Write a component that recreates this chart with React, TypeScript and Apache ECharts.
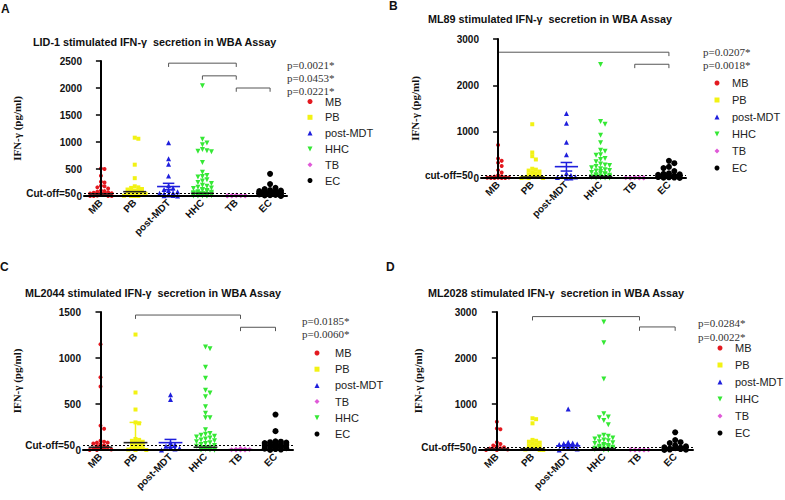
import React, { useEffect, useRef } from "react";
import * as echarts from "echarts";

// ---------- categories & labels ----------
const CATEGORIES = ["MB", "PB", "post-MDT", "HHC", "TB", "EC"];
const LEGEND_ORDER_ABD = ["MB", "PB", "post-MDT", "HHC", "TB", "EC"];
const LEGEND_ORDER_C = ["MB", "PB", "post-MDT", "TB", "HHC", "EC"];
const TITLES = [
  "LID-1 stimulated IFN-γ  secretion in WBA Assay",
  "ML89 stimulated IFN-γ  secretion in WBA Assay",
  "ML2044 stimulated IFN-γ  secretion in WBA Assay",
  "ML2028 stimulated IFN-γ  secretion in WBA Assay",
];
const PANEL_LETTERS = ["A", "B", "C", "D"];
const CUTOFF_LABELS = ["Cut-off=50", "cut-off=50", "Cut-off=50", "Cut-off=50"];
const CUTOFF_VALUE = 50;
const Y_MAX = [2500, 3000, 1500, 3000];
const Y_INTERVAL = [500, 1000, 500, 1000];
const P_VALUES = [
  ["p=0.0021*", "p=0.0453*", "p=0.0221*"],
  ["p=0.0207*", "p=0.0018*"],
  ["p=0.0185*", "p=0.0060*"],
  ["p=0.0284*", "p=0.0022*"],
];

// ---------- Panel A: LID-1 ----------
const A_MB = [510, 500, 375, 265, 250, 190, 180, 160, 140, 100, 90, 80, 70, 60, 50, 45, 40, 30, 25, 20, 15, 10, 5, 5, 0, 0, 0];
const A_PB = [1080, 1060, 580, 330, 180, 160, 150, 130, 120, 100, 90, 80, 60, 50, 40, 30, 20, 10, 5, 0, 0, 0];
const A_PM = [985, 690, 590, 370, 190, 150, 120, 100, 80, 60, 50, 40, 30, 20, 10, 5, 0];
const A_HHC = [2040, 1050, 980, 950, 860, 840, 830, 820, 620, 440, 380, 360, 350, 300, 280, 250, 230, 200, 180, 160, 150, 140, 120, 110, 100, 90, 80, 70, 60, 55, 50, 45, 40, 35, 30, 25, 20, 15, 10, 5, 0, 0, 0, 0];
const A_TB = [20, 15, 10, 10, 5, 5, 3, 0, 0, 0];
const A_EC = [410, 220, 150, 130, 110, 100, 90, 85, 80, 75, 70, 65, 60, 55, 50, 45, 40, 35, 30, 25, 20, 15, 10, 5, 0];
const A_CENTER = [40, 80, 175, 50, 5, 50];
const A_LOW = [20, 45, 115, 35, 2, 35];
const A_HIGH = [60, 115, 235, 70, 8, 65];
// brackets: [fromCat, toCat, value]
const A_BRACKETS = [[2, 4, 2460], [3, 4, 2225], [4, 5, 2000]];

// ---------- Panel B: ML89 ----------
const B_MB = [710, 420, 370, 330, 260, 170, 120, 60, 40, 30, 20, 15, 10, 5, 5, 0, 0, 0, 0];
const B_PB = [1160, 550, 470, 400, 200, 180, 160, 140, 120, 100, 80, 60, 40, 20, 10, 0, 0, 0];
const B_PM = [1390, 1180, 770, 500, 100, 60, 40, 20, 10, 5, 0, 0];
const B_HHC = [2450, 1220, 1160, 920, 760, 600, 580, 500, 490, 420, 400, 350, 300, 280, 270, 250, 220, 200, 180, 160, 150, 140, 120, 100, 90, 80, 70, 60, 50, 40, 30, 20, 15, 10, 5, 0, 0, 0];
const B_TB = [15, 10, 8, 5, 5, 3, 0, 0, 0];
const B_EC = [370, 320, 240, 215, 150, 100, 90, 80, 70, 60, 50, 40, 30, 25, 20, 15, 10, 5, 0];
const B_CENTER = [10, 20, 245, 30, 3, 20];
const B_LOW = [5, 10, 150, 20, 1, 10];
const B_HIGH = [20, 35, 335, 45, 5, 35];
const B_BRACKETS = [[0, 5, 2715], [4, 5, 2455]];

// ---------- Panel C: ML2044 ----------
const C_MB = [1150, 790, 690, 265, 230, 100, 90, 80, 80, 70, 60, 50, 40, 30, 20, 15, 10, 5, 0, 0];
const C_PB = [1255, 625, 440, 300, 290, 120, 110, 100, 90, 80, 70, 60, 50, 40, 30, 20, 10, 5, 0, 0];
const C_PM = [600, 550, 80, 60, 40, 30, 20, 10, 0];
const C_HHC = [1120, 1100, 900, 780, 650, 620, 580, 470, 400, 350, 350, 220, 180, 170, 160, 150, 140, 130, 120, 110, 100, 90, 80, 70, 60, 50, 40, 30, 20, 10, 5, 0, 0, 0, 0];
const C_TB = [15, 10, 8, 5, 3, 0, 0, 0];
const C_EC = [385, 205, 95, 90, 85, 80, 75, 70, 65, 60, 55, 50, 45, 40, 35, 30, 25, 20, 15, 10, 5, 0];
const C_CENTER = [30, 80, 80, 30, 5, 45];
const C_LOW = [15, 25, 30, 20, 2, 35];
const C_HIGH = [50, 300, 115, 45, 8, 55];
const C_BRACKETS = [[1, 4, 1467], [4, 5, 1334]];

// ---------- Panel D: ML2028 ----------
const D_MB = [615, 470, 450, 170, 130, 100, 80, 60, 40, 30, 20, 10, 5, 0, 0];
const D_PB = [690, 670, 580, 220, 200, 180, 160, 140, 120, 100, 80, 60, 40, 20, 10, 0, 0];
const D_PM = [890, 170, 150, 140, 130, 120, 100, 80, 60, 40, 20, 0];
const D_HHC = [2780, 2330, 1545, 790, 720, 700, 640, 550, 320, 300, 280, 260, 240, 220, 200, 180, 160, 140, 120, 100, 90, 80, 70, 60, 50, 40, 30, 20, 10, 5, 0, 0];
const D_TB = [12, 8, 5, 5, 3, 0, 0, 0];
const D_EC = [385, 215, 170, 150, 100, 80, 60, 50, 40, 30, 20, 10, 5, 0];
const D_CENTER = [20, 25, 90, 25, 3, 20];
const D_LOW = [10, 10, 65, 15, 1, 10];
const D_HIGH = [30, 40, 115, 40, 5, 30];
const D_BRACKETS = [[1, 4, 2900], [4, 5, 2675]];

const PANEL_GROUPS = [
  [A_MB, A_PB, A_PM, A_HHC, A_TB, A_EC],
  [B_MB, B_PB, B_PM, B_HHC, B_TB, B_EC],
  [C_MB, C_PB, C_PM, C_HHC, C_TB, C_EC],
  [D_MB, D_PB, D_PM, D_HHC, D_TB, D_EC],
];
const PANEL_SUMMARY = [
  [A_CENTER, A_LOW, A_HIGH],
  [B_CENTER, B_LOW, B_HIGH],
  [C_CENTER, C_LOW, C_HIGH],
  [D_CENTER, D_LOW, D_HIGH],
];
const PANEL_BRACKETS = [A_BRACKETS, B_BRACKETS, C_BRACKETS, D_BRACKETS];

// ---------- styles / layout ----------
const COLORS: Record<string, string> = {
  MB: "#e3191f",
  PB: "#f2f214",
  "post-MDT": "#1f1fdc",
  HHC: "#35e835",
  TB: "#e05ad8",
  EC: "#000000",
};
const MEAN_COLORS: Record<string, string> = {
  MB: "#222222",
  PB: "#222222",
  "post-MDT": "#1f1fdc",
  HHC: "#222222",
  TB: "#b040b0",
  EC: "#000000",
};
const SYMBOLS: Record<string, any> = {
  MB: { symbol: "circle", size: 4, rotate: 0 },
  PB: { symbol: "rect", size: 4, rotate: 0 },
  "post-MDT": { symbol: "triangle", size: 5, rotate: 0 },
  HHC: { symbol: "triangle", size: 5, rotate: 180 },
  TB: { symbol: "diamond", size: 5, rotate: 0 },
  EC: { symbol: "circle", size: 6, rotate: 0 },
};
const LEGEND_ICONS: Record<string, string> = {
  MB: "circle",
  PB: "rect",
  "post-MDT": "triangle",
  HHC: "path://M0,0L10,0L5,10Z",
  TB: "diamond",
  EC: "circle",
};

const GRIDS = [
  { left: 84, top: 61, width: 203, height: 135 },
  { left: 481, top: 39, width: 205, height: 139 },
  { left: 83, top: 312, width: 210, height: 138 },
  { left: 479, top: 312, width: 214, height: 138 },
];
const TITLE_POS = [
  { left: 33, top: 36 },
  { left: 428, top: 13 },
  { left: 25, top: 287 },
  { left: 428, top: 287 },
];
const LETTER_POS = [
  { x: 1, y: 9 },
  { x: 389, y: 6 },
  { x: 0, y: 267 },
  { x: 386, y: 267 },
];
const PV_POS = [
  { x: 287, y: 64.5, gap: 13 },
  { x: 703, y: 52, gap: 13 },
  { x: 302, y: 321, gap: 12.5 },
  { x: 698, y: 323, gap: 14 },
];
const LEGEND_POS = [
  { mx: 310, tx: 325, y: 101.5, step: 15.8 },
  { mx: 717, tx: 732, y: 83, step: 17 },
  { mx: 317, tx: 335, y: 353, step: 16.2 },
  { mx: 720, tx: 735, y: 348, step: 17 },
];
const NAME_GAP = [62, 61, 61, 56];

const SANS = "'Liberation Sans', Arial, sans-serif";
const SERIF = "'Liberation Serif', 'Times New Roman', serif";

// Beeswarm dodge layout (pixel space -> category units)
function swarm(values: number[], cat: number, pxPerUnit: number, pxPerCat: number, diam: number) {
  const sorted = [...values].sort((a, b) => b - a);
  const placed: { x: number; y: number }[] = [];
  const out: number[][] = [];
  const step = diam * 0.9;
  const maxOff = pxPerCat * 0.36;
  const cands: number[] = [0];
  for (let k = 1; k * step <= maxOff; k++) {
    cands.push(k * step, -k * step);
  }
  for (const v of sorted) {
    const y = v * pxPerUnit;
    let best = cands[0];
    let bestConf = Infinity;
    for (const c of cands) {
      let conf = 0;
      for (const p of placed) {
        if (Math.abs(p.y - y) < diam * 0.85 && Math.abs(p.x - c) < diam * 0.85) conf++;
      }
      if (conf < bestConf) {
        bestConf = conf;
        best = c;
        if (conf === 0) break;
      }
    }
    placed.push({ x: best, y });
    out.push([cat + best / pxPerCat, v]);
  }
  return out;
}

export default function App() {
  const ref = useRef<HTMLDivElement>(null);
  useEffect(() => {
    if (!ref.current) return;
    const chart = echarts.init(ref.current, undefined, { renderer: "svg" });

    const grid: any[] = [];
    const xAxis: any[] = [];
    const yAxis: any[] = [];
    const series: any[] = [];
    const legend: any[] = [];
    const title: any[] = [];
    const graphic: any[] = [];

    for (let p = 0; p < 4; p++) {
      const g = GRIDS[p];
      grid.push({ ...g, containLabel: false });
      // category axis (line, ticks, rotated labels)
      xAxis.push({
        type: "category",
        gridIndex: p,
        data: CATEGORIES,
        boundaryGap: true,
        axisLine: { lineStyle: { color: "#000", width: 2 } },
        axisTick: { alignWithLabel: true, length: 4, lineStyle: { color: "#000", width: 1.5 } },
        axisLabel: {
          interval: 0,
          rotate: 45,
          margin: 5,
          fontSize: 10,
          fontWeight: "bold",
          fontFamily: SANS,
          color: "#111",
        },
        z: 5,
      });
      // hidden value axis for positioning
      xAxis.push({
        type: "value",
        gridIndex: p,
        min: -0.5,
        max: 5.5,
        show: false,
      });
      yAxis.push({
        type: "value",
        gridIndex: p,
        min: 0,
        max: Y_MAX[p],
        interval: Y_INTERVAL[p],
        name: "IFN-γ (pg/ml)",
        nameLocation: "middle",
        nameGap: NAME_GAP[p],
        nameTextStyle: { fontFamily: SERIF, fontWeight: "bold", fontSize: 11, color: "#111" },
        axisLine: { show: true, lineStyle: { color: "#000", width: 2 } },
        axisTick: { show: true, length: 5, lineStyle: { color: "#000", width: 1.5 } },
        axisLabel: {
          fontSize: 10,
          fontWeight: "bold",
          fontFamily: SANS,
          color: "#111",
          margin: 2,
          formatter: (v: number) => String(v),
        },
        splitLine: { show: false },
        z: 5,
      });

      const pxPerUnit = g.height / Y_MAX[p];
      const pxPerCat = g.width / 6;
      const valueX = p * 2 + 1;

      CATEGORIES.forEach((cat, ci) => {
        const sym = SYMBOLS[cat];
        series.push({
          type: "scatter",
          name: cat,
          xAxisIndex: valueX,
          yAxisIndex: p,
          symbol: sym.symbol,
          symbolSize: sym.size,
          symbolRotate: sym.rotate,
          itemStyle: { color: COLORS[cat], opacity: 1 },
          data: swarm(PANEL_GROUPS[p][ci], ci, pxPerUnit, pxPerCat, sym.size),
          clip: false,
          z: 3,
        });
      });

      // mean / error bars
      const [center, low, high] = PANEL_SUMMARY[p];
      series.push({
        type: "custom",
        name: "summary" + p,
        xAxisIndex: valueX,
        yAxisIndex: p,
        z: 4,
        data: CATEGORIES.map((c, i) => [i, center[i], low[i], high[i]]),
        renderItem: (params: any, api: any) => {
          const i = params.dataIndex;
          const cat = CATEGORIES[i];
          const x = api.value(0);
          const pc = api.coord([x, api.value(1)]);
          const pl = api.coord([x, api.value(2)]);
          const ph = api.coord([x, api.value(3)]);
          const halfW = pxPerCat * 0.34;
          const capW = pxPerCat * 0.17;
          const ec = cat === "EC" ? "#000" : COLORS[cat];
          return {
            type: "group",
            children: [
              { type: "line", shape: { x1: pc[0], y1: pl[1], x2: pc[0], y2: ph[1] }, style: { stroke: ec, lineWidth: 1.5 } },
              { type: "line", shape: { x1: pc[0] - capW, y1: ph[1], x2: pc[0] + capW, y2: ph[1] }, style: { stroke: ec, lineWidth: 1.5 } },
              { type: "line", shape: { x1: pc[0] - capW, y1: pl[1], x2: pc[0] + capW, y2: pl[1] }, style: { stroke: ec, lineWidth: 1.5 } },
              { type: "line", shape: { x1: pc[0] - halfW, y1: pc[1], x2: pc[0] + halfW, y2: pc[1] }, style: { stroke: MEAN_COLORS[cat], lineWidth: 1.6 } },
            ],
          };
        },
        markLine: {
          silent: true,
          symbol: "none",
          lineStyle: { color: "#000", type: [2, 2], width: 1.2 },
          label: {
            show: true,
            position: "start",
            distance: 8,
            formatter: CUTOFF_LABELS[p],
            fontSize: 10,
            fontWeight: "bold",
            fontFamily: SANS,
            color: "#111",
          },
          data: [{ yAxis: CUTOFF_VALUE }],
        },
      });

      // brackets
      const drop = Y_MAX[p] * 0.028;
      PANEL_BRACKETS[p].forEach((b, bi) => {
        const [c1, c2, v] = b;
        series.push({
          type: "line",
          name: "bracket" + p + "_" + bi,
          xAxisIndex: valueX,
          yAxisIndex: p,
          symbol: "none",
          silent: true,
          lineStyle: { color: "#555", width: 1 },
          data: [
            [c1, v - drop],
            [c1, v],
            [c2, v],
            [c2, v - drop],
          ],
          z: 2,
        });
      });

      // legend
      const lp = LEGEND_POS[p];
      const order = p === 2 ? LEGEND_ORDER_C : LEGEND_ORDER_ABD;
      const itemH = 13;
      legend.push({
        orient: "vertical",
        left: lp.mx - 2.5,
        top: lp.y - itemH / 2,
        itemWidth: 5,
        itemHeight: 5,
        itemGap: lp.step - itemH,
        selectedMode: false,
        padding: 0,
        data: order.map((n) => ({ name: n, icon: LEGEND_ICONS[n] })),
        textStyle: {
          fontSize: 11,
          fontFamily: SANS,
          color: "#222",
          lineHeight: itemH,
          padding: [0, 0, 0, lp.tx - lp.mx - 7.5],
        },
      });

      title.push({
        text: TITLES[p],
        left: TITLE_POS[p].left,
        top: TITLE_POS[p].top,
        padding: 0,
        textStyle: { fontSize: 10.8, fontWeight: "bold", fontFamily: SANS, color: "#111" },
      });

      graphic.push({
        type: "text",
        x: LETTER_POS[p].x,
        y: LETTER_POS[p].y,
        style: { text: PANEL_LETTERS[p], font: "bold 12px " + SANS, fill: "#111", verticalAlign: "middle" },
      });
      const pv = PV_POS[p];
      P_VALUES[p].forEach((t, ti) => {
        graphic.push({
          type: "text",
          x: pv.x,
          y: pv.y + ti * pv.gap,
          style: { text: t, font: "11px " + SERIF, fill: "#333", verticalAlign: "middle" },
        });
      });
    }

    chart.setOption({
      animation: false,
      backgroundColor: "#fff",
      grid,
      xAxis,
      yAxis,
      series,
      legend,
      title,
      graphic,
    });

    return () => chart.dispose();
  }, []);

  return (
    <div
      ref={ref}
      style={{ position: "absolute", left: 0, top: 0, width: 785, height: 500, background: "#fff" }}
    />
  );
}
